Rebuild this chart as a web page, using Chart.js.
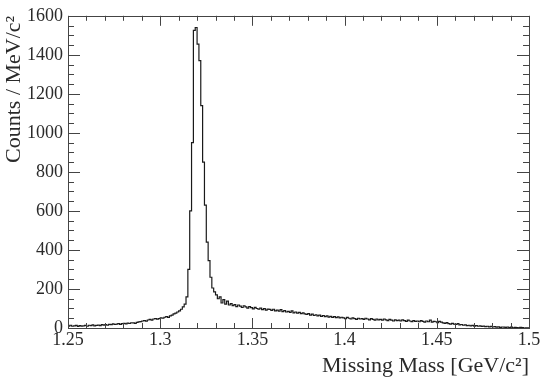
<!DOCTYPE html>
<html><head><meta charset="utf-8">
<script src="https://cdn.jsdelivr.net/npm/chart.js@4.4.0/dist/chart.umd.min.js"></script>
<style>html,body{margin:0;padding:0;background:#fff}</style>
</head><body>
<canvas id="c" width="545" height="388"></canvas>
<script>
// Histogram binning (GeV/c^2)
const xMin = 1.25;
const xMax = 1.5;
const binWidth = 0.001;

// Counts per 1 MeV/c^2 bin (250 bins, 1.250 ... 1.499)
const counts = [
  12, 10, 14, 9, 11, 13, 8, 12, 10, 11,
  13, 9, 14, 12, 16, 11, 13, 15, 12, 17,
  15, 18, 14, 19, 17, 21, 18, 20, 22, 19,
  22, 24, 21, 25, 23, 27, 26, 24, 29, 31,
  33, 36, 38, 35, 41, 44, 40, 46, 48, 45,
  48, 52, 50, 55, 58, 54, 62, 66, 72, 76,
  82, 88, 96, 108, 122, 160, 300, 600, 950, 1525,
  1540, 1455, 1370, 1140, 850, 630, 440, 345, 260, 205,
  185, 170, 150, 160, 128, 145, 122, 138, 118, 125,
  115, 120, 110, 118, 112, 105, 114, 108, 102, 110,
  104, 98, 106, 100, 96, 102, 94, 99, 92, 97,
  95, 90, 96, 88, 92, 86, 94, 84, 89, 82,
  85, 80, 88, 78, 82, 76, 80, 74, 78, 72,
  70, 74, 66, 71, 64, 68, 62, 66, 60, 64,
  58, 62, 56, 60, 54, 58, 53, 57, 52, 55,
  52, 48, 54, 50, 46, 52, 48, 44, 50, 46,
  48, 44, 50, 46, 42, 48, 44, 40, 46, 42,
  44, 40, 46, 42, 38, 44, 40, 36, 42, 38,
  40, 36, 42, 38, 34, 40, 36, 33, 38, 34,
  36, 32, 38, 34, 30, 36, 32, 40, 30, 34,
  32, 28, 34, 30, 26, 24, 28, 22, 20, 24,
  20, 18, 22, 16, 18, 14, 16, 12, 14, 11,
  13, 10, 12, 9, 11, 8, 10, 7, 9, 6,
  8, 5, 7, 4, 6, 3, 5, 4, 3, 5,
  2, 4, 1, 3, 2, 1, 3, 2, 0, 1
];

const xTickValues = [1.25, 1.3, 1.35, 1.4, 1.45, 1.5];
const xTickLabels = ['1.25', '1.3', '1.35', '1.4', '1.45', '1.5'];
const yTickValues = [0, 200, 400, 600, 800, 1000, 1200, 1400, 1600];
const yTickLabels = ['0', '200', '400', '600', '800', '1000', '1200', '1400', '1600'];
const xTitle = 'Missing Mass [GeV/c\u00B2]';
const yTitle = 'Counts / MeV/c\u00B2';

const points = counts.map((c, i) => ({ x: xMin + i * binWidth, y: c }));
points.push({ x: xMax, y: counts[counts.length - 1] });

const FONT = 'Liberation Serif';
const TXT = '#2a2a2a';
const AX = '#444';

const frameTicks = {
  id: 'frameTicks',
  afterDatasetsDraw(chart) {
    const { ctx, chartArea: a, scales: { x, y } } = chart;
    const r = v => Math.round(v) + 0.5;
    ctx.save();
    ctx.strokeStyle = AX;
    ctx.lineWidth = 1;
    ctx.strokeRect(r(a.left), r(a.top), Math.round(a.right) - Math.round(a.left), Math.round(a.bottom) - Math.round(a.top));
    ctx.beginPath();
    for (let i = 0; i <= 25; i++) {
      const v = xMin + i * 0.01;
      const px = r(x.getPixelForValue(v));
      const len = (i % 5 === 0) ? 10 : 5;
      ctx.moveTo(px, a.bottom); ctx.lineTo(px, a.bottom - len);
      ctx.moveTo(px, a.top); ctx.lineTo(px, a.top + len);
    }
    for (let j = 0; j <= 32; j++) {
      const v = j * 50;
      const py = r(y.getPixelForValue(v));
      const len = (j % 4 === 0) ? 12 : 6;
      ctx.moveTo(a.left, py); ctx.lineTo(a.left + len, py);
      ctx.moveTo(a.right, py); ctx.lineTo(a.right - len, py);
    }
    ctx.stroke();
    ctx.restore();
  }
};

new Chart(document.getElementById('c'), {
  type: 'line',
  data: {
    datasets: [{
      data: points,
      stepped: 'after',
      borderColor: '#1a1a1a',
      borderWidth: 1.2,
      pointRadius: 0,
      fill: false,
      tension: 0
    }]
  },
  options: {
    responsive: false,
    animation: false,
    layout: { padding: { top: 13, right: 16, left: 0, bottom: 0 } },
    plugins: { legend: { display: false }, tooltip: { enabled: false } },
    scales: {
      x: {
        type: 'linear',
        min: xMin,
        max: xMax,
        afterFit: s => { s.height = 60; },
        afterBuildTicks: s => { s.ticks = xTickValues.map(v => ({ value: v })); },
        grid: { display: false, drawTicks: false },
        border: { display: false },
        ticks: {
          padding: 1,
          autoSkip: false,
          maxRotation: 0,
          color: TXT,
          font: { family: FONT, size: 18 },
          callback: (v) => { const k = xTickValues.findIndex(t => Math.abs(t - v) < 1e-6); return k >= 0 ? xTickLabels[k] : ''; }
        },
        title: {
          display: true,
          text: xTitle,
          align: 'end',
          color: TXT,
          font: { family: FONT, size: 22 },
          padding: { top: 0, bottom: 9 }
        }
      },
      y: {
        type: 'linear',
        min: 0,
        max: 1600,
        afterFit: s => { s.width = 68; },
        afterBuildTicks: s => { s.ticks = yTickValues.map(v => ({ value: v })); },
        grid: { display: false, drawTicks: false },
        border: { display: false },
        ticks: {
          padding: 5,
          color: TXT,
          font: { family: FONT, size: 18 },
          callback: (v) => { const k = yTickValues.indexOf(v); return k >= 0 ? yTickLabels[k] : ''; }
        },
        title: {
          display: true,
          text: yTitle,
          align: 'end',
          color: TXT,
          font: { family: FONT, size: 22 },
          padding: { top: 1, bottom: 0 }
        }
      }
    }
  },
  plugins: [frameTicks]
});
</script>
</body></html>
